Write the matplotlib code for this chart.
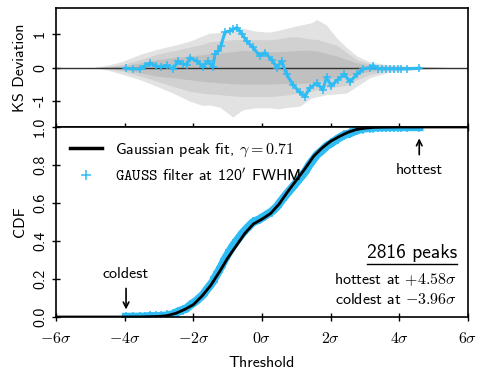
import numpy as np
import matplotlib
matplotlib.use('Agg')
import matplotlib.pyplot as plt
from matplotlib.lines import Line2D

plt.rcParams['font.family'] = 'cmss10'
plt.rcParams['mathtext.fontset'] = 'cm'
plt.rcParams['axes.unicode_minus'] = False
plt.rcParams['axes.formatter.use_mathtext'] = True

# ── Data ──────────────────────────────────────────────────────────────────────
# threshold grid for the gray significance bands (top panel)
t_band = [-4.9, -4.5, -4.05, -3.55, -3.06, -2.6, -2.1, -1.72, -1.53, -1.23,
          -0.85, -0.56, -0.2, 0.22, 0.45, 0.8, 1.1, 1.43, 1.6, 1.77,
          1.88, 2.17, 2.47, 2.76, 3.14, 3.63, 4.1, 4.6, 5.4]
outer_hi = [0.0, 0.07, 0.19, 0.40, 0.55, 0.66, 0.80, 0.96, 1.04, 1.06,
            1.15, 1.19, 1.10, 1.07, 1.12, 1.21, 1.28, 1.35, 1.45, 1.35,
            1.28, 0.90, 0.60, 0.35, 0.17, 0.09, 0.05, 0.03, 0.0]
outer_lo = [0.0, -0.08, -0.21, -0.37, -0.57, -0.77, -1.02, -1.15, -1.13, -1.20,
            -1.50, -1.28, -1.22, -1.22, -1.25, -1.20, -1.17, -0.93, -0.88, -0.85,
            -0.82, -0.80, -0.77, -0.57, -0.31, -0.16, -0.10, -0.06, 0.0]
mid_hi = [0.0, 0.03, 0.09, 0.24, 0.40, 0.50, 0.62, 0.70, 0.78, 0.80,
          0.84, 0.85, 0.84, 0.84, 0.86, 0.93, 0.92, 0.86, 0.85, 0.80,
          0.76, 0.68, 0.45, 0.24, 0.11, 0.06, 0.03, 0.015, 0.0]
mid_lo = [0.0, -0.04, -0.12, -0.26, -0.41, -0.57, -0.72, -0.78, -0.80, -0.82,
          -0.86, -0.88, -0.88, -0.88, -0.86, -0.82, -0.77, -0.72, -0.67, -0.64,
          -0.62, -0.58, -0.53, -0.37, -0.21, -0.11, -0.06, -0.03, 0.0]
inner_hi = [0.0, 0.02, 0.05, 0.14, 0.24, 0.30, 0.35, 0.39, 0.42, 0.44,
            0.48, 0.52, 0.50, 0.47, 0.48, 0.50, 0.52, 0.52, 0.50, 0.46,
            0.42, 0.35, 0.24, 0.14, 0.06, 0.03, 0.015, 0.008, 0.0]
inner_lo = [0.0, -0.02, -0.06, -0.16, -0.26, -0.31, -0.37, -0.42, -0.44, -0.46,
            -0.49, -0.50, -0.50, -0.50, -0.49, -0.48, -0.48, -0.46, -0.42, -0.39,
            -0.37, -0.30, -0.26, -0.19, -0.11, -0.06, -0.03, -0.015, 0.0]

# peak thresholds, KS deviation and empirical CDF (GAUSS filter at 120')
t_peak = [-3.96, -3.75, -3.55, -3.4, -3.26, -3.1, -2.95, -2.77, -2.6, -2.45,
          -2.3, -2.19, -2.1, -1.9, -1.72, -1.58, -1.43, -1.37, -1.28, -1.2,
          -1.08, -0.93, -0.85, -0.73, -0.58, -0.45, -0.27, -0.07, 0.08, 0.28,
          0.43, 0.57, 0.72, 0.9, 1.1, 1.25, 1.39, 1.6, 1.77, 1.88,
          2.02, 2.2, 2.4, 2.56, 2.76, 2.94, 3.14, 3.24, 3.38, 3.5,
          3.62, 3.72, 3.85, 3.95, 4.05, 4.22, 4.58]
ks_dev = [-0.03, -0.04, -0.05, 0.05, 0.14, 0.05, 0.02, 0.07, -0.05, 0.19,
          0.10, 0.09, 0.30, 0.19, 0.03, 0.19, 0.03, 0.40, 0.49, 0.65,
          1.06, 1.11, 1.15, 1.21, 1.01, 0.80, 0.62, 0.35, 0.45, 0.24,
          0.0, 0.19, -0.21, -0.52, -0.75, -0.88, -0.62, -0.47, -0.67, -0.30,
          -0.56, -0.37, -0.21, -0.43, -0.21, -0.05, 0.0, 0.06, -0.04, -0.04,
          -0.04, -0.04, -0.04, -0.04, -0.04, -0.04, -0.02]
cdf_peak = [0.0004, 0.0007, 0.001, 0.002, 0.0045, 0.0035, 0.0045, 0.008, 0.014, 0.028,
            0.038, 0.046, 0.061, 0.087, 0.117, 0.151, 0.186, 0.208, 0.236, 0.262,
            0.305, 0.351, 0.374, 0.403, 0.439, 0.465, 0.498, 0.515, 0.532, 0.555,
            0.58, 0.614, 0.648, 0.686, 0.730, 0.763, 0.804, 0.854, 0.88, 0.90,
            0.915, 0.938, 0.959, 0.967, 0.983, 0.992, 0.996, 0.997, 0.998, 0.9985,
            0.999, 0.9992, 0.9994, 0.9995, 0.9996, 0.9998, 1.0]

# Gaussian peak fit (gamma = 0.71)
t_fit = [-6.0, -4.0, -3.5, -3.0, -2.77, -2.5, -2.25, -2.0, -1.75, -1.5,
         -1.25, -1.0, -0.75, -0.5, -0.25, 0.0, 0.25, 0.5, 0.75, 1.0,
         1.25, 1.5, 1.75, 2.0, 2.25, 2.5, 2.75, 3.0, 3.25, 3.5, 4.0, 6.0]
cdf_fit = [0.0, 0.0, 0.0005, 0.003, 0.007, 0.02, 0.04, 0.065, 0.11, 0.165,
           0.235, 0.31, 0.375, 0.44, 0.49, 0.515, 0.545, 0.595, 0.66, 0.72,
           0.78, 0.845, 0.89, 0.925, 0.95, 0.972, 0.987, 0.994, 0.998, 0.999, 1.0, 1.0]

N_PEAKS = 2816
HOTTEST = 4.58
COLDEST = -3.96

BLUE = '#2ebcf5'
FS = 11.5
x_ticks = [-6, -4, -2, 0, 2, 4, 6]
x_labels = [r'$-6\sigma$', r'$-4\sigma$', r'$-2\sigma$', r'$0\sigma$',
            r'$2\sigma$', r'$4\sigma$', r'$6\sigma$']

# ── Figure ────────────────────────────────────────────────────────────────────
fig = plt.figure(figsize=(4.8, 3.74), dpi=100)
ax1 = fig.add_axes([0.1167, 0.6604, 0.8583, 0.3182])
ax2 = fig.add_axes([0.1167, 0.1524, 0.8583, 0.5080])

# top: KS deviation
ax1.fill_between(t_band, outer_lo, outer_hi, color='#e2e2e2', lw=0)
ax1.fill_between(t_band, mid_lo, mid_hi, color='#d1d1d1', lw=0)
ax1.fill_between(t_band, inner_lo, inner_hi, color='#c0c0c0', lw=0)
ax1.axhline(0, color='#333333', lw=1.0, zorder=2)
ax1.plot(t_peak, ks_dev, '-', color=BLUE, lw=2.2, zorder=3)
ax1.plot(t_peak, ks_dev, '+', color=BLUE, ms=6, mew=1.1, zorder=3)
ax1.set_xlim(-6, 6)
ax1.set_ylim(-1.8, 1.8)
ax1.set_xticks(x_ticks)
ax1.set_xticklabels([])
ax1.set_yticks([-1, 0, 1])
ax1.set_yticklabels(['-1', '0', '1'], rotation=90, va='center')
ax1.set_ylabel('KS Deviation', fontsize=FS)

# bottom: CDF
ax2.plot(t_peak, cdf_peak, '-', color=BLUE, lw=6, zorder=2)
ax2.plot(t_peak, cdf_peak, '+', color=BLUE, ms=7, mew=1.1, zorder=2)
ax2.plot(t_fit, cdf_fit, '-', color='black', lw=2.0, zorder=3)
ax2.set_xlim(-6, 6)
ax2.set_ylim(0, 1)
ax2.set_xticks(x_ticks)
ax2.set_xticklabels(x_labels)
ax2.set_yticks([0.0, 0.2, 0.4, 0.6, 0.8, 1.0])
ax2.set_yticklabels(['0.0', '0.2', '0.4', '0.6', '0.8', '1.0'],
                    rotation=90, va='center')
ax2.set_ylabel('CDF', fontsize=FS)
ax2.set_xlabel('Threshold', fontsize=FS, labelpad=7)

for ax in (ax1, ax2):
    ax.tick_params(direction='inout', length=6, width=1.0, labelsize=FS)
    for s in ax.spines.values():
        s.set_linewidth(1.2)
ax2.tick_params(axis='x', pad=7)

handles = [Line2D([], [], color='black', lw=2.5),
           Line2D([], [], color=BLUE, ls='none', marker='+', ms=7, mew=1.1)]
labels = [r'Gaussian peak fit, $\gamma = 0.71$',
          r"$\mathtt{GAUSS}$ filter at 120$'$ FWHM"]
ax2.legend(handles, labels, loc='upper left', frameon=False, fontsize=FS,
           handlelength=2.0, borderaxespad=0.5, labelspacing=0.5)

ax2.annotate('', xy=(HOTTEST, 0.955), xytext=(HOTTEST, 0.84),
             arrowprops=dict(arrowstyle='->', lw=1.2, color='black'))
ax2.text(HOTTEST, 0.775, 'hottest', ha='center', va='center', fontsize=FS)
ax2.annotate('', xy=(COLDEST, 0.025), xytext=(COLDEST, 0.165),
             arrowprops=dict(arrowstyle='->', lw=1.2, color='black'))
ax2.text(COLDEST, 0.225, 'coldest', ha='center', va='center', fontsize=FS)

ax2.text(0.973, 0.337, f'{N_PEAKS} peaks', transform=ax2.transAxes,
         ha='right', va='center', fontsize=14)
ax2.add_line(Line2D([0.755, 0.973], [0.279, 0.279], transform=ax2.transAxes,
                    color='black', lw=1.0))
ax2.text(0.973, 0.195, rf'hottest at $+{HOTTEST:.2f}\sigma$',
         transform=ax2.transAxes, ha='right', va='center', fontsize=FS)
ax2.text(0.973, 0.09, rf'coldest at $-{abs(COLDEST):.2f}\sigma$',
         transform=ax2.transAxes, ha='right', va='center', fontsize=FS)

fig.align_ylabels([ax1, ax2])
fig.savefig('out.png', dpi=100)
